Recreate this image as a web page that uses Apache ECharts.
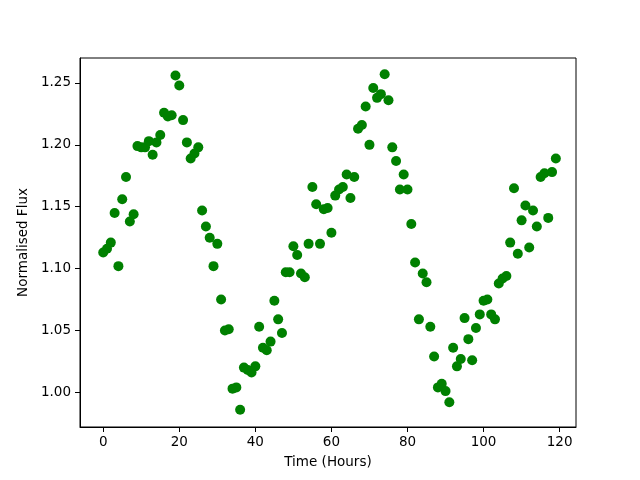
<!DOCTYPE html>
<html>
<head>
<meta charset="utf-8">
<script src="https://cdn.jsdelivr.net/npm/echarts@6/dist/echarts.min.js"></script>
<style>
  html, body { margin: 0; padding: 0; background: #fff; }
  #chart { width: 640px; height: 480px; }
</style>
</head>
<body>
<div id="chart"></div>
<script>
// hours since start of observation
var hours = [];
for (var h = 0; h < 120; h++) hours.push(h);

// normalised flux
var flux = [
  1.113, 1.116, 1.121, 1.145, 1.102, 1.156, 1.174, 1.138, 1.144, 1.199,
  1.198, 1.198, 1.203, 1.192, 1.202, 1.208, 1.226, 1.223, 1.224, 1.256,
  1.248, 1.220, 1.202, 1.189, 1.193, 1.198, 1.147, 1.134, 1.125, 1.102,
  1.120, 1.075, 1.050, 1.051, 1.003, 1.004, 0.986, 1.020, 1.018, 1.016,
  1.021, 1.053, 1.036, 1.034, 1.041, 1.074, 1.059, 1.048, 1.097, 1.097,
  1.118, 1.111, 1.096, 1.093, 1.120, 1.166, 1.152, 1.120, 1.148, 1.149,
  1.129, 1.159, 1.164, 1.166, 1.176, 1.157, 1.174, 1.213, 1.216, 1.231,
  1.200, 1.246, 1.238, 1.241, 1.257, 1.236, 1.198, 1.187, 1.164, 1.176,
  1.164, 1.136, 1.105, 1.059, 1.096, 1.089, 1.053, 1.029, 1.004, 1.007,
  1.001, 0.992, 1.036, 1.021, 1.027, 1.060, 1.043, 1.026, 1.052, 1.063,
  1.074, 1.075, 1.063, 1.059, 1.088, 1.092, 1.094, 1.121, 1.165, 1.112,
  1.139, 1.151, 1.117, 1.147, 1.134, 1.174, 1.177, 1.141, 1.178, 1.189
];

var xTicks = [0, 20, 40, 60, 80, 100, 120];
var yTicks = [1.00, 1.05, 1.10, 1.15, 1.20, 1.25];

var points = [];
for (var i = 0; i < hours.length; i++) {
  points.push([hours[i], flux[i]]);
}

var chart = echarts.init(document.getElementById("chart"));

var labelFont = {
  fontFamily: "DejaVu Sans",
  fontSize: 13.5,
  color: "#000"
};

var option = {
  animation: false,
  grid: {
    left: 80,
    right: 64,
    top: 58,
    bottom: 53,
    show: true,
    borderColor: "#000",
    borderWidth: 1
  },
  xAxis: {
    type: "value",
    min: -6.1,
    max: 124.3,
    name: "Time (Hours)",
    nameLocation: "middle",
    nameGap: 28,
    nameTextStyle: labelFont,
    axisLine: { show: true, onZero: false, lineStyle: { color: "#000", width: 1 } },
    axisTick: {
      show: true,
      length: 5,
      lineStyle: { color: "#000" },
      customValues: xTicks
    },
    axisLabel: Object.assign({ margin: 8, customValues: xTicks }, labelFont),
    splitLine: { show: false }
  },
  yAxis: {
    type: "value",
    min: 0.972,
    max: 1.2702,
    name: "Normalised Flux",
    nameLocation: "middle",
    nameGap: 48,
    nameTextStyle: labelFont,
    axisLine: { show: true, onZero: false, lineStyle: { color: "#000", width: 1 } },
    axisTick: {
      show: true,
      length: 5,
      lineStyle: { color: "#000" },
      customValues: yTicks
    },
    axisLabel: Object.assign({
      margin: 9,
      customValues: yTicks,
      formatter: function (v) { return v.toFixed(2); }
    }, labelFont),
    splitLine: { show: false }
  },
  series: [
    {
      type: "scatter",
      data: points,
      symbol: "circle",
      symbolSize: 10,
      itemStyle: { color: "#008000", opacity: 1 }
    }
  ]
};

chart.setOption(option);
</script>
</body>
</html>
